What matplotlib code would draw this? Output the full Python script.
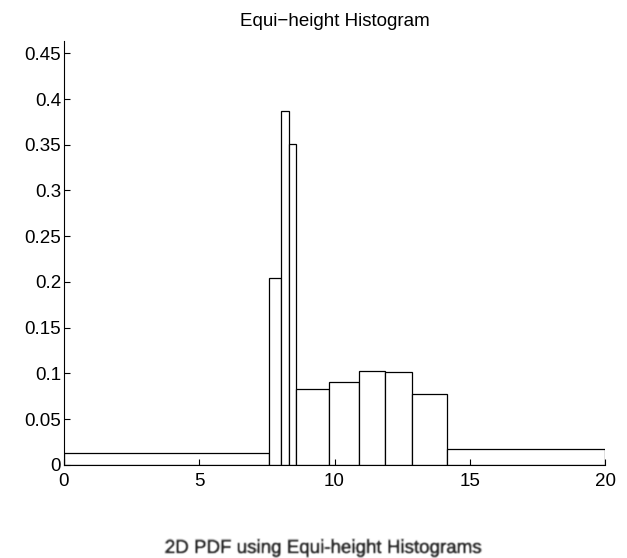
import numpy as np
import matplotlib.pyplot as plt
import matplotlib.patheffects as pe

plt.rcParams['font.family'] = ['Liberation Sans', 'DejaVu Sans']

# bin edges and densities of the equi-height histogram (each bin holds ~0.1 mass)
edges = [0.0, 7.57, 8.04, 8.31, 8.59, 9.79, 10.9, 11.86, 12.85, 14.15, 20.0]
density = [0.0135, 0.204, 0.387, 0.3505, 0.0827, 0.091, 0.1027, 0.1013, 0.0773, 0.0171]

xticks = [0, 5, 10, 15, 20]
yticks = [0, 0.05, 0.1, 0.15, 0.2, 0.25, 0.3, 0.35, 0.4, 0.45]
ytick_labels = ['0', '0.05', '0.1', '0.15', '0.2', '0.25', '0.3', '0.35', '0.4', '0.45']


def soft_blur(img, dpi):
    # small separable blur for the caption
    pad = 3
    a = np.pad(img, ((pad, pad), (pad, pad), (0, 0)))
    k = np.array([1, 2, 1], dtype=float)
    k /= k.sum()
    a = np.apply_along_axis(lambda v: np.convolve(v, k, mode='same'), 0, a)
    a = np.apply_along_axis(lambda v: np.convolve(v, k, mode='same'), 1, a)
    return a, -pad, -pad


fig = plt.figure(figsize=(6.27, 5.58), dpi=100)
ax = fig.add_axes([0.102, 0.1667, 0.863, 0.76])

left = np.array(edges[:-1])
widths = np.diff(edges)
ax.bar(left, density, width=widths, align='edge',
       facecolor='white', edgecolor='black', linewidth=0.9)

ax.set_xlim(0, 20)
ax.set_ylim(0, 0.4635)
ax.set_xticks(xticks)
ax.set_xticklabels([str(t) for t in xticks])
ax.set_yticks(yticks)
ax.set_yticklabels(ytick_labels)
ax.tick_params(direction='in', length=4, width=0.8, labelsize=13.5, pad=2)
ax.tick_params(axis='x', pad=5.5)

for side in ['top', 'right']:
    ax.spines[side].set_visible(False)
for side in ['left', 'bottom']:
    ax.spines[side].set_linewidth(0.8)

ax.set_title('Equi\u2212height Histogram', fontsize=13.5, pad=10.5)

caption = fig.text(0.515, 0.009, '2D PDF using Equi-height Histograms',
                   ha='center', va='baseline', fontsize=13.5, color='#2a2a2a')
caption.set_path_effects([pe.withStroke(linewidth=0.5, foreground='#2a2a2a')])
caption.set_agg_filter(soft_blur)

fig.savefig('out.png', dpi=100)
